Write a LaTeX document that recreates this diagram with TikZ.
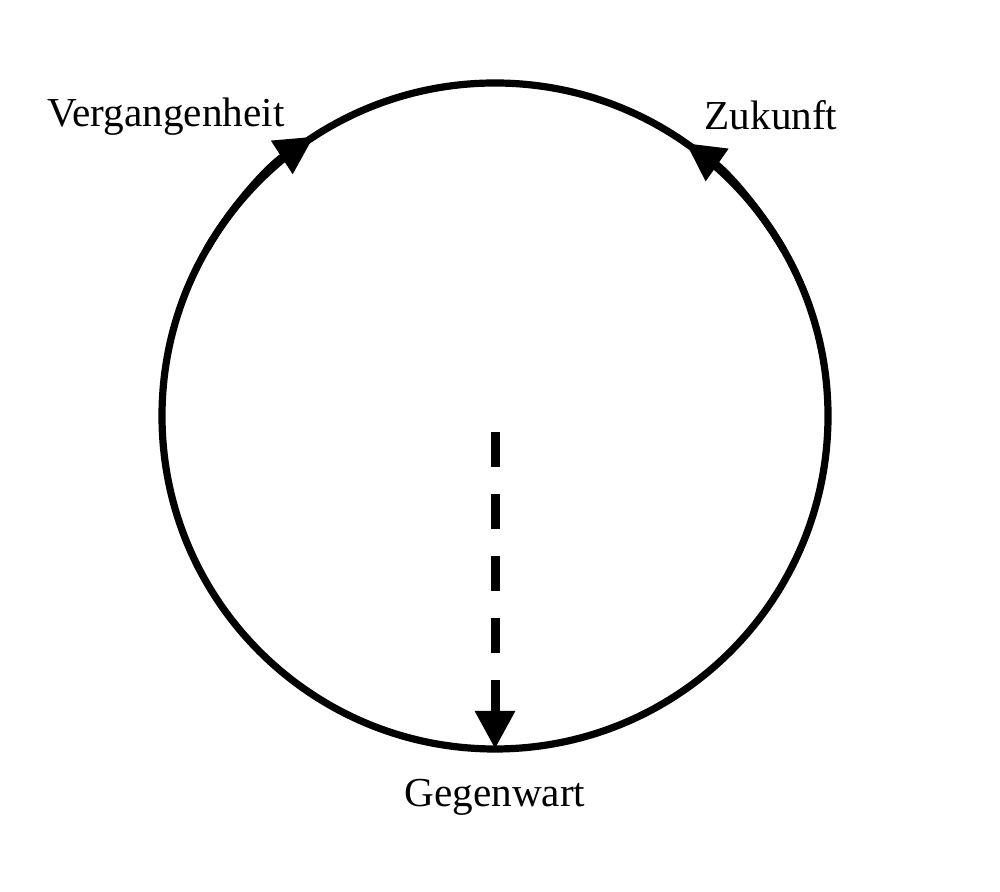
\documentclass[tikz,border=0pt]{standalone}
\usepackage{fontspec}
\setmainfont{Liberation Serif}
\usetikzlibrary{arrows.meta}

\begin{document}
\begin{tikzpicture}[x=0.5pt,y=0.5pt,
   ring/.style={line width=3.6pt},
   tip/.style={-{Triangle[width=19pt,length=19pt]}},
   now/.style={line width=4.5pt,dash pattern=on 17.5pt off 13.5pt},
   lbl/.style={font=\fontsize{20.6}{24}\selectfont,inner sep=0pt}]
  \useasboundingbox (0,0) rectangle (1000,892);
  % the circle of time
  \coordinate (c) at (495,476);
  \draw[ring] (c) circle[radius=333];
  % arrowheads going up both sides
  \draw[ring,tip] ([shift={(c)}]150:333) arc[start angle=150,end angle=123,radius=333];
  \draw[ring,tip] ([shift={(c)}]30:333) arc[start angle=30,end angle=55,radius=333];
  % labels
  \node[lbl] (past) at (166,775){Vergangenheit};
  \node[lbl] (future) at (771,777){Zukunft};
  \node[lbl] (present) at (495,95){Gegenwart};
  % dashed drop to the present
  \coordinate (top) at (495,460);
  \coordinate (bot) at (495,143);
  \draw[now,tip] (top) -- (bot);
\end{tikzpicture}
\end{document}
